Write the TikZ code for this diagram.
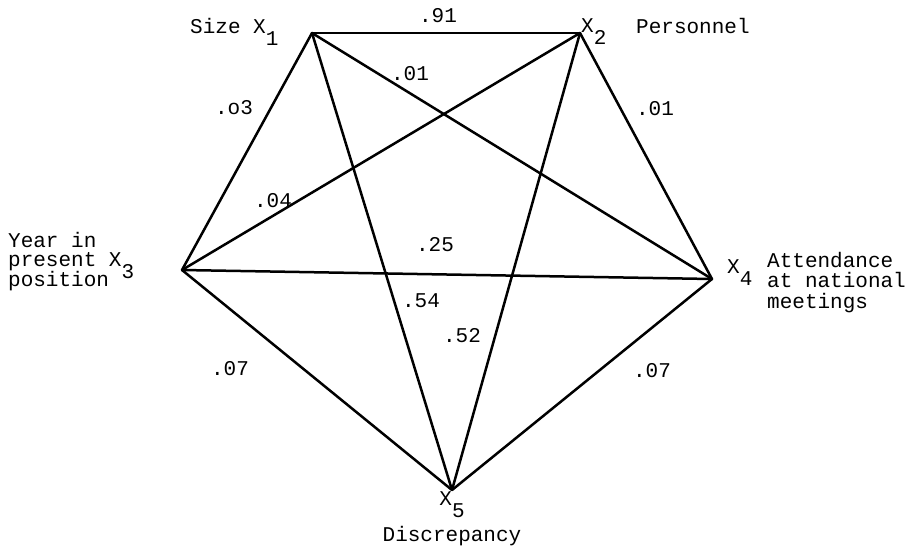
\documentclass[tikz,border=0pt]{standalone}
\usepackage{fontspec}
\newfontfamily\tw{Liberation Mono}
\newcommand{\lowsub}[1]{\raisebox{-0.58em}{#1}}
\begin{document}
\begin{tikzpicture}[x=1pt,y=-1pt,
  edge/.style={line width=2.5pt,line cap=round,line join=round},
  txt/.style={font=\tw\fontsize{21}{21}\selectfont,inner sep=0pt,anchor=base},
  lbl/.style={txt,anchor=base west}]
\useasboundingbox (0,0) rectangle (920,549);
% vertices
\coordinate (v1) at (312,33);
\coordinate (v2) at (580,33);
\coordinate (v3) at (182,270);
\coordinate (v4) at (712,279);
\coordinate (v5) at (452,490);
% edges
\draw[edge] (v1) -- (v2);
\draw[edge] (v1) -- (v3);
\draw[edge] (v1) -- (v4);
\draw[edge] (v1) -- (v5);
\draw[edge] (v2) -- (v3);
\draw[edge] (v2) -- (v4);
\draw[edge] (v2) -- (v5);
\draw[edge] (v3) -- (v4);
\draw[edge] (v3) -- (v5);
\draw[edge] (v4) -- (v5);
% vertex labels
\node[lbl] (n1) at (190,33) {Size X\lowsub{1}};
\node[lbl] (n2) at (581,32) {X\lowsub{2}};
\node[lbl] (p2) at (636,33) {Personnel};
\node[lbl] (a3) at (8,247) {Year in};
\node[lbl] (b3) at (8,266) {present X\lowsub{3}};
\node[lbl] (c3) at (8,286) {position};
\node[lbl] (n4) at (727,273) {X\lowsub{4}};
\node[lbl] (a4) at (767,267) {Attendance};
\node[lbl] (b4) at (767,287) {at national};
\node[lbl] (c4) at (767,308) {meetings};
\node[txt] (n5) at (452,505) {X\lowsub{5}};
\node[txt] (d5) at (452,541) {Discrepancy};
% edge labels
\node[txt] (e12) at (438,22) {.91};
\node[txt] (e14) at (410,80) {.01};
\node[txt] (e13) at (234,114) {.o3};
\node[txt] (e24) at (655,115) {.01};
\node[txt] (e23) at (273,207) {.04};
\node[txt] (e34) at (435,251) {.25};
\node[txt] (e15) at (421,307) {.54};
\node[txt] (e25) at (462,342) {.52};
\node[txt] (e35) at (230,375) {.07};
\node[txt] (e45) at (652,377) {.07};
\end{tikzpicture}
\end{document}
